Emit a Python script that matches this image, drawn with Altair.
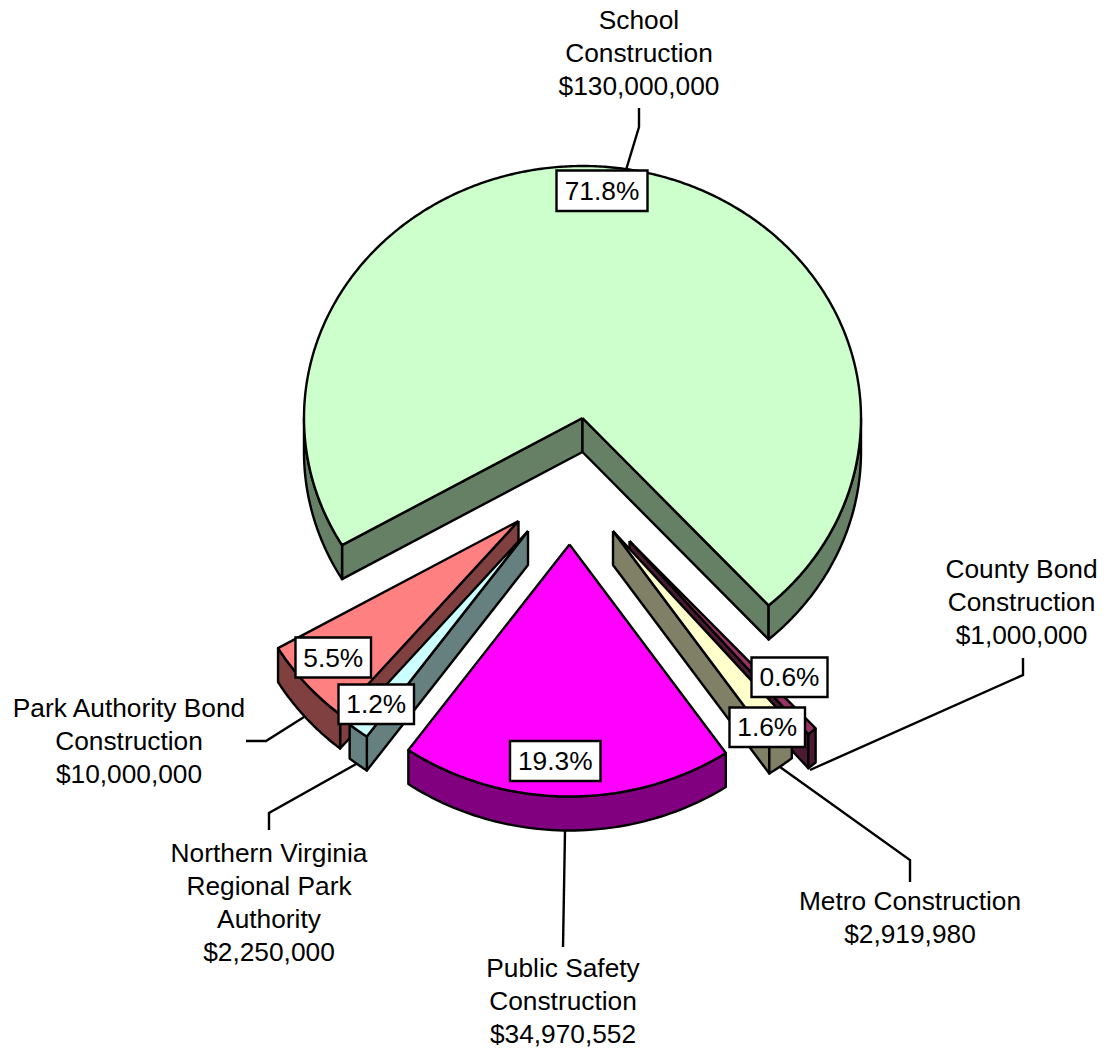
import numpy as np
import pandas as pd
import altair as alt

# ---- data ----
slices = ["School", "County Bond", "Metro", "Public Safety", "Northern Virginia", "Park Authority"]
amounts = [130000000, 1000000, 2919980, 34970552, 2250000, 10000000]
percent_labels = ["71.8%", "0.6%", "1.6%", "19.3%", "1.2%", "5.5%"]
label_text = [
    ["School", "Construction", "$130,000,000"],
    ["County Bond", "Construction", "$1,000,000"],
    ["Metro Construction", "$2,919,980"],
    ["Public Safety", "Construction", "$34,970,552"],
    ["Northern Virginia", "Regional Park", "Authority", "$2,250,000"],
    ["Park Authority Bond", "Construction", "$10,000,000"],
]

# ---- styles and layout ----
top_colors = ["#CCFFCC", "#993366", "#FFFFCC", "#FF00FF", "#CCFFFF", "#FF8080"]
side_colors = ["#668066", "#4D1A33", "#808066", "#800080", "#668080", "#804040"]
apex_x = [582.5, 629.5, 613, 569.5, 528, 518.5]
apex_y = [418, 541, 531, 544.5, 531, 521]
RX, RY, DEPTH, START = 278.5, 252, 34, 239.7
draw_order = [0, 5, 4, 1, 2, 3]
box_x = [556.5, 751.5, 729.5, 510, 338.5, 295.5]
box_x2 = [647.5, 827.5, 805, 600.5, 414, 371]
box_y = [170.5, 657.5, 707.5, 741, 684.5, 637.5]
box_y2 = [211, 697, 747, 781, 724, 677.5]
text_x = [639, 1021.5, 910, 563, 269, 129]
text_y = [21, 570, 902, 969, 854, 709]
LINE_STEP = 33
FONT = "Liberation Sans"
FONT_SIZE = 26.3
STROKE = 2.4
leaders = [
    [(639, 108), (639, 127), (626, 170)],
    [(1023, 658), (1023, 675), (810, 770)],
    [(910, 882), (910, 860), (780, 767)],
    [(563, 947), (565, 831)],
    [(269, 830), (269, 813), (358, 763)],
    [(246, 741), (266, 741), (304, 717)],
]

# ---- geometry derived from the amounts ----
total = sum(amounts)
spans = [a / total * 360 for a in amounts]
starts = []
angle = START
for s in spans:
    starts.append(angle)
    angle += s


def rim(i, t):
    t = np.radians(t)
    return apex_x[i] + RX * np.sin(t), apex_y[i] - RY * np.cos(t)


rows = []
part = 0


def add_poly(points, fill):
    global part
    pts = list(points) + [points[0]]
    for k, (x, y) in enumerate(pts):
        rows.append({"part": part, "i": k, "x": x, "y": y, "fill": fill})
    part += 1


for s in draw_order:
    t0, t1 = starts[s], starts[s] + spans[s]
    ax, ay = apex_x[s], apex_y[s]
    # cut faces turned to the viewer
    if np.sin(np.radians(t0)) < 0:
        px, py = rim(s, t0)
        add_poly([(ax, ay), (px, py), (px, py + DEPTH), (ax, ay + DEPTH)], side_colors[s])
    if np.sin(np.radians(t1)) > 0:
        px, py = rim(s, t1)
        add_poly([(ax, ay), (px, py), (px, py + DEPTH), (ax, ay + DEPTH)], side_colors[s])
    # outer wall, front half only
    for lo, hi in [(90, 270), (450, 630)]:
        a, b = max(t0, lo), min(t1, hi)
        if b > a:
            ts = np.linspace(a, b, 60)
            front = [rim(s, t) for t in ts]
            back = [(x, y + DEPTH) for x, y in reversed(front)]
            add_poly(front + back, side_colors[s])
    # top face
    ts = np.linspace(t0, t1, max(12, int(spans[s] * 2)))
    add_poly([(ax, ay)] + [rim(s, t) for t in ts], top_colors[s])

shapes = pd.DataFrame(rows)

leader_rows = []
for n, pts in enumerate(leaders):
    for k, (x, y) in enumerate(pts):
        leader_rows.append({"leader": n, "i": k, "x": x, "y": y})
leader_df = pd.DataFrame(leader_rows)

text_rows = []
for s, lines in enumerate(label_text):
    for k, line in enumerate(lines):
        text_rows.append({"x": text_x[s], "y": text_y[s] + k * LINE_STEP, "t": line})
text_df = pd.DataFrame(text_rows)

box_df = pd.DataFrame({"x": box_x, "x2": box_x2, "y": box_y, "y2": box_y2, "t": percent_labels})
box_df["cx"] = (box_df.x + box_df.x2) / 2
box_df["cy"] = (box_df.y + box_df.y2) / 2 + 1

xs = alt.Scale(domain=[8, 1097], nice=False, zero=False)
ys = alt.Scale(domain=[1048, 8], nice=False, zero=False)
X = alt.X("x:Q", scale=xs, axis=None)
Y = alt.Y("y:Q", scale=ys, axis=None)

leader_layer = alt.Chart(leader_df).mark_line(color="black", strokeWidth=STROKE).encode(
    x=X, y=Y, detail="leader:N", order="i:Q")

shape_layer = alt.Chart(shapes).mark_line(
    stroke="black", strokeWidth=STROKE, strokeJoin="round"
).encode(x=X, y=Y, detail="part:N", order="i:Q", fill=alt.Fill("fill:N", scale=None, legend=None))

box_layer = alt.Chart(box_df).mark_rect(fill="white", stroke="black", strokeWidth=STROKE).encode(
    x=X, x2="x2:Q", y=Y, y2="y2:Q")

pct_layer = alt.Chart(box_df).mark_text(
    font=FONT, fontSize=FONT_SIZE, color="black", align="center", baseline="middle"
).encode(x=alt.X("cx:Q", scale=xs, axis=None), y=alt.Y("cy:Q", scale=ys, axis=None), text="t:N")

label_layer = alt.Chart(text_df).mark_text(
    font=FONT, fontSize=FONT_SIZE, color="black", align="center", baseline="middle"
).encode(x=X, y=Y, text="t:N")

chart = alt.layer(leader_layer, shape_layer, box_layer, pct_layer, label_layer).properties(
    width=1089, height=1040, padding=0, autosize=alt.AutoSizeParams(type="none"),
    background="white"
).configure_view(stroke=None)

chart.save("out.html", embed_options={"renderer": "svg", "actions": False})
